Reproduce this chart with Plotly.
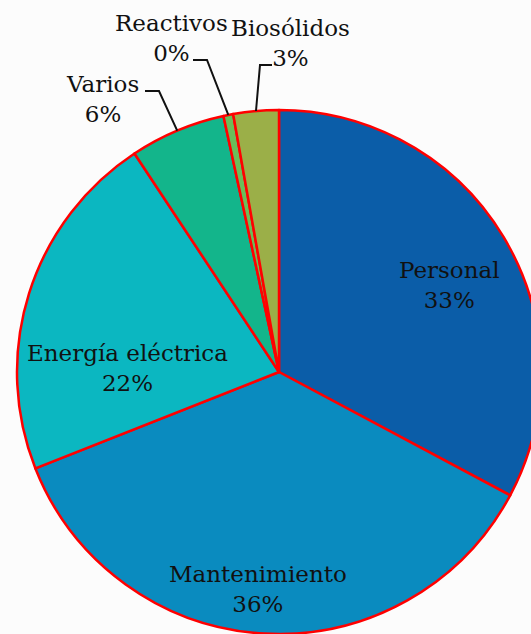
import math
import plotly.graph_objects as go

labels = ["Personal", "Mantenimiento", "Energía eléctrica", "Varios", "Reactivos", "Biosólidos"]
values = [32.8, 36.2, 21.7, 5.9, 0.6, 2.8]
percent_text = ["33%", "36%", "22%", "6%", "0%", "3%"]
colors = ["#0B5DA8", "#0A8BBF", "#0BB7C1", "#13B58B", "#6BBD5A", "#9BAF48"]

# label block centres (px) and elbow of leader lines for the outside ones
label_pos = [(449, 285), (258, 589), (127, 368), (102, 99), (171, 38), (290, 43)]
elbows = {3: [(145, 91), (159, 91)], 4: [(193, 60), (207, 60)], 5: [(272, 65), (260, 65)]}

W, H = 541, 634
cx, cy, R = 279, 372, 262
font = dict(family="DejaVu Serif", size=23, color="#111111")


def px(x, y):
    return x / W, 1 - y / H


fig = go.Figure(go.Pie(
    labels=labels, values=values,
    textinfo="none", hoverinfo="label+percent",
    sort=False, direction="clockwise", rotation=0,
    marker=dict(colors=colors, line=dict(color="#FF0000", width=2.5)),
    domain=dict(x=[(cx - R) / W, 1], y=[0, (H - (cy - R)) / H]),
    showlegend=False,
))

total = sum(values)
cum = 0
for i, (lab, v) in enumerate(zip(labels, values)):
    mid = (cum + v / 2) / total * 2 * math.pi
    cum += v
    lx, ly = px(*label_pos[i])
    fig.add_annotation(x=lx, y=ly, xref="paper", yref="paper", text=f"{lab}<br>{percent_text[i]}",
                       showarrow=False, font=font, xanchor="center", yanchor="middle")
    if i in elbows:
        ex, ey = cx + R * math.sin(mid), cy - R * math.cos(mid)
        pts = [px(*p) for p in elbows[i] + [(ex, ey)]]
        path = "M " + " L ".join(f"{a:.5f},{b:.5f}" for a, b in pts)
        fig.add_shape(type="path", path=path, xref="paper", yref="paper",
                      line=dict(color="#111111", width=2))

fig.update_layout(
    width=W, height=H,
    margin=dict(l=0, r=0, t=0, b=0, autoexpand=False),
    paper_bgcolor="#FCFCFC", plot_bgcolor="#FCFCFC",
)

fig.write_html(
    "out.html",
    config={"displayModeBar": False, "responsive": False},
    post_script="document.body.style.margin='0';document.body.style.overflow='hidden';",
)
